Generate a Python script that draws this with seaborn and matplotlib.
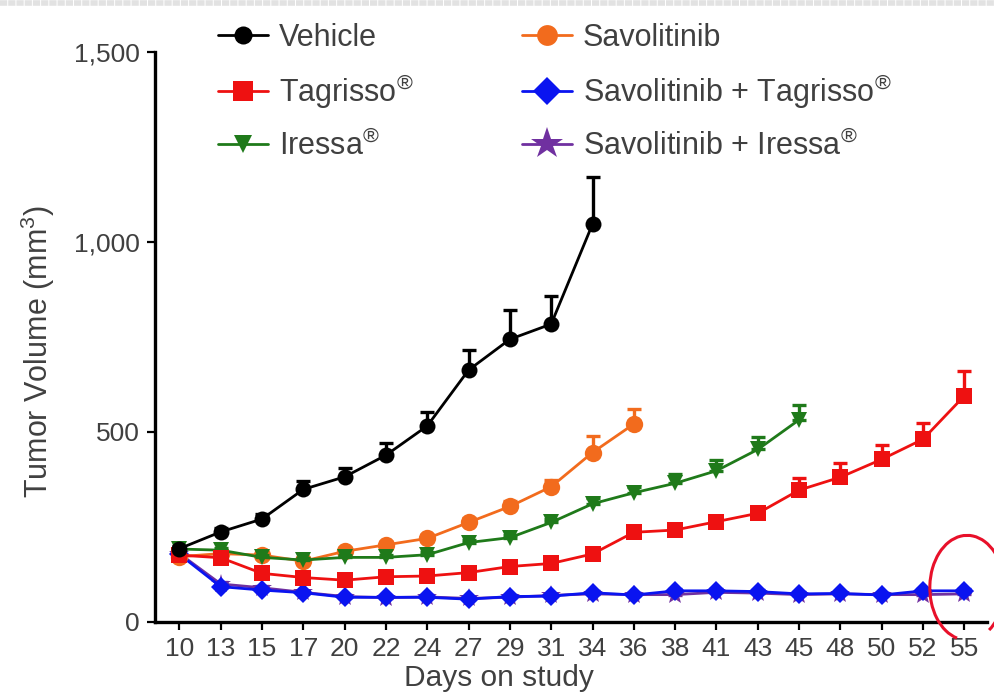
import numpy as np
import pandas as pd
import seaborn as sns
import matplotlib.pyplot as plt
from matplotlib import font_manager
from matplotlib.lines import Line2D
from matplotlib.patches import Arc
from matplotlib.ticker import FuncFormatter

# Data (mean tumor volume, upper SEM bar)
days = [10, 13, 15, 17, 20, 22, 24, 27, 29, 31, 34, 36, 38, 41, 43, 45, 48, 50, 52, 55]

vehicle = [193, 237, 271, 349, 382, 439, 516, 663, 744, 784, 1047]
vehicle_err = [8, 10, 12, 22, 22, 33, 37, 53, 77, 75, 123]

savolitinib = [172, 180, 176, 160, 186, 203, 220, 262, 304, 356, 446, 521]
savolitinib_err = [6, 6, 6, 8, 8, 8, 10, 12, 15, 18, 43, 39]

tagrisso = [176, 169, 128, 117, 110, 119, 121, 130, 146, 154, 179, 236, 242, 264, 286, 347, 381, 428, 481, 595]
tagrisso_err = [5, 5, 5, 5, 5, 5, 6, 6, 8, 8, 10, 10, 10, 12, 14, 31, 37, 38, 42, 66]

iressa = [192, 189, 170, 163, 170, 170, 177, 209, 222, 262, 311, 340, 365, 398, 454, 532]
iressa_err = [5, 6, 6, 6, 6, 6, 6, 8, 8, 10, 14, 16, 24, 28, 32, 39]

sav_tag = [178, 93, 84, 77, 65, 65, 65, 60, 67, 68, 77, 71, 82, 82, 80, 74, 75, 71, 82, 82]
sav_tag_err = [4] * 20

sav_iressa = [180, 100, 90, 78, 67, 64, 66, 62, 65, 70, 74, 72, 72, 78, 76, 72, 74, 72, 72, 74]
sav_iressa_err = [4] * 20

# name, values, errors, color, marker, marker size, legend marker size (drawing order)
series = [
    ("Savolitinib + Iressa$^{\\circledR}$", sav_iressa, sav_iressa_err, "#7030a0", "*", 15, 24),
    ("Savolitinib + Tagrisso$^{\\circledR}$", sav_tag, sav_tag_err, "#0a14f0", "D", 10.5, 14),
    ("Savolitinib", savolitinib, savolitinib_err, "#f26b1d", "o", 12.5, 15),
    ("Iressa$^{\\circledR}$", iressa, iressa_err, "#1f7a1a", "v", 11.5, 13),
    ("Tagrisso$^{\\circledR}$", tagrisso, tagrisso_err, "#ee1111", "s", 11.5, 14),
    ("Vehicle", vehicle, vehicle_err, "black", "o", 11.5, 13),
]
legend_order = ["Vehicle", "Tagrisso$^{\\circledR}$", "Iressa$^{\\circledR}$",
                "Savolitinib", "Savolitinib + Tagrisso$^{\\circledR}$",
                "Savolitinib + Iressa$^{\\circledR}$"]

sns.set_style("ticks")
installed = {f.name for f in font_manager.fontManager.ttflist}
fam = [f for f in ["Liberation Sans Narrow", "Liberation Sans", "DejaVu Sans"] if f in installed]
plt.rcParams["font.family"] = fam
plt.rcParams["mathtext.fontset"] = "custom"
plt.rcParams["mathtext.rm"] = fam[0]
plt.rcParams["mathtext.it"] = fam[0]
plt.rcParams["mathtext.bf"] = fam[0]
text_color = "#404040"

fig = plt.figure(figsize=(9.95, 6.98), dpi=100)
ax = fig.add_axes([0.1558, 0.1089, 0.8362, 0.8166])

handles = {}
for z, (name, vals, err, color, marker, ms, lms) in enumerate(series):
    df = pd.DataFrame({"pos": np.arange(len(vals)), "vol": vals})
    ax.errorbar(df["pos"], df["vol"], yerr=[np.zeros(len(err)), err], fmt="none",
                ecolor=color, elinewidth=2.4, capsize=5, capthick=2.4, zorder=2 + z)
    sns.lineplot(data=df, x="pos", y="vol", ax=ax, color=color, marker=marker,
                 markersize=ms, markeredgewidth=0, linewidth=2.0, zorder=2 + z,
                 legend=False)
    handles[name] = Line2D([], [], color=color, marker=marker, markersize=lms,
                           markeredgewidth=0, linewidth=2.0)

ax.set_xlim(-0.59, 19.55)
ax.set_ylim(0, 1500)
ax.set_xticks(range(len(days)))
ax.set_xticklabels([str(d) for d in days])
ax.set_yticks([0, 500, 1000, 1500])
ax.yaxis.set_major_formatter(FuncFormatter(lambda v, p: f"{int(v):,}"))

sns.despine(ax=ax)
for s in ["left", "bottom"]:
    ax.spines[s].set_linewidth(2.4)
    ax.spines[s].set_color("black")
ax.tick_params(axis="both", length=6, width=1.6, color="black",
               labelsize=19, labelcolor=text_color, pad=5)

ax.set_xlabel("Days on study", fontsize=21.5, color=text_color)
ax.xaxis.set_label_coords(0.4135, -0.074)
ax.set_ylabel("Tumor Volume (mm$^{3}$)", fontsize=22, color=text_color)
ax.yaxis.set_label_coords(-0.118, 0.475)

leg = fig.legend([handles[n] for n in legend_order], legend_order,
                 loc="upper left", bbox_to_anchor=(0.191, 1.007), ncol=2,
                 frameon=False, fontsize=22, handlelength=1.65, handletextpad=0.35,
                 columnspacing=3.55, labelspacing=0.6)
for t in leg.get_texts():
    t.set_color(text_color)

# light dashed page border at the top
fig.add_artist(Line2D([0, 1], [0.996, 0.996], transform=fig.transFigure,
                      color="#e2e2e2", linewidth=4, dashes=(1.3, 0.18)))

# hand-drawn red circle mark near day 55
fig.add_artist(Arc((0.972, 0.158), 0.075, 0.15, theta1=-70, theta2=262,
                   transform=fig.transFigure, color="#e8102a", linewidth=2.2))

fig.savefig("out.png", dpi=100)
